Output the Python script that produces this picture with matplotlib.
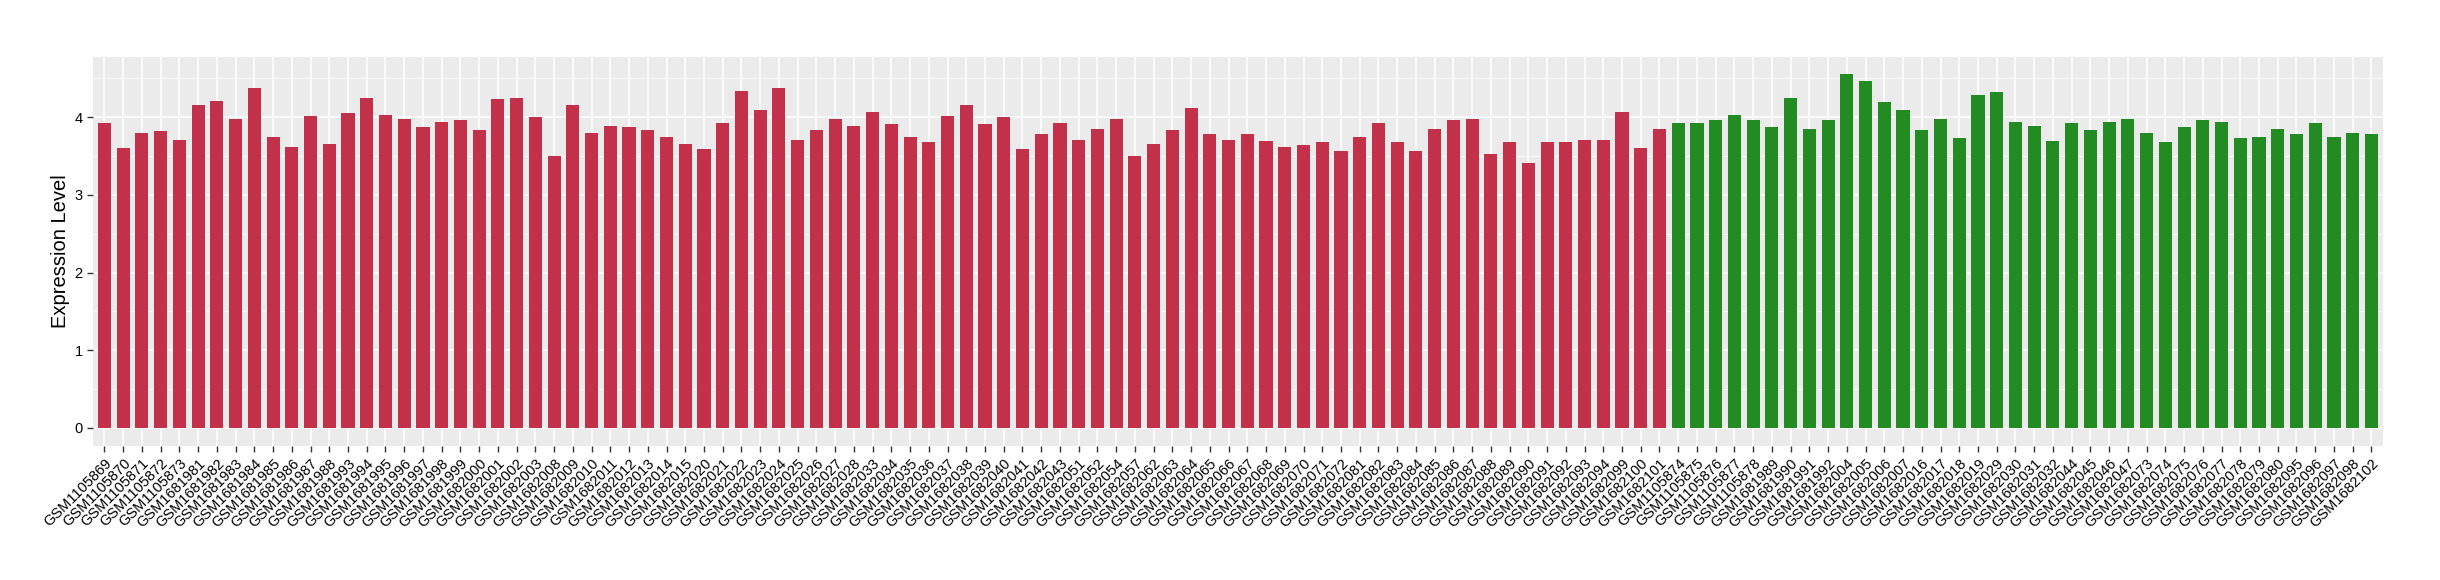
import numpy as np
import matplotlib
matplotlib.use('Agg')
import matplotlib.pyplot as plt
from matplotlib.ticker import MultipleLocator

plt.rcParams['font.family'] = ['Liberation Sans', 'DejaVu Sans']

# red group samples
red_samples = [
    'GSM1105869', 'GSM1105870', 'GSM1105871', 'GSM1105872', 'GSM1105873',
    'GSM1681981', 'GSM1681982', 'GSM1681983', 'GSM1681984', 'GSM1681985',
    'GSM1681986', 'GSM1681987', 'GSM1681988', 'GSM1681993', 'GSM1681994',
    'GSM1681995', 'GSM1681996', 'GSM1681997', 'GSM1681998', 'GSM1681999',
    'GSM1682000', 'GSM1682001', 'GSM1682002', 'GSM1682003', 'GSM1682008',
    'GSM1682009', 'GSM1682010', 'GSM1682011', 'GSM1682012', 'GSM1682013',
    'GSM1682014', 'GSM1682015', 'GSM1682020', 'GSM1682021', 'GSM1682022',
    'GSM1682023', 'GSM1682024', 'GSM1682025', 'GSM1682026', 'GSM1682027',
    'GSM1682028', 'GSM1682033', 'GSM1682034', 'GSM1682035', 'GSM1682036',
    'GSM1682037', 'GSM1682038', 'GSM1682039', 'GSM1682040', 'GSM1682041',
    'GSM1682042', 'GSM1682043', 'GSM1682051', 'GSM1682052', 'GSM1682054',
    'GSM1682057', 'GSM1682062', 'GSM1682063', 'GSM1682064', 'GSM1682065',
    'GSM1682066', 'GSM1682067', 'GSM1682068', 'GSM1682069', 'GSM1682070',
    'GSM1682071', 'GSM1682072', 'GSM1682081', 'GSM1682082', 'GSM1682083',
    'GSM1682084', 'GSM1682085', 'GSM1682086', 'GSM1682087', 'GSM1682088',
    'GSM1682089', 'GSM1682090', 'GSM1682091', 'GSM1682092', 'GSM1682093',
    'GSM1682094', 'GSM1682099', 'GSM1682100', 'GSM1682101',
]
red_values = [
    3.92, 3.60, 3.79, 3.82, 3.70, 4.15, 4.21, 3.97, 4.37, 3.74,
    3.62, 4.01, 3.66, 4.05, 4.25, 4.03, 3.98, 3.87, 3.94, 3.96,
    3.83, 4.23, 4.24, 4.00, 3.50, 4.15, 3.79, 3.89, 3.87, 3.84,
    3.75, 3.66, 3.59, 3.92, 4.34, 4.09, 4.38, 3.71, 3.83, 3.97,
    3.89, 4.06, 3.91, 3.75, 3.68, 4.01, 4.16, 3.91, 4.00, 3.59,
    3.78, 3.93, 3.71, 3.85, 3.97, 3.50, 3.66, 3.83, 4.12, 3.78,
    3.70, 3.78, 3.69, 3.62, 3.64, 3.68, 3.56, 3.75, 3.92, 3.68,
    3.56, 3.85, 3.96, 3.98, 3.52, 3.68, 3.41, 3.68, 3.68, 3.71,
    3.71, 4.06, 3.60, 3.85,
]

# green group samples
green_samples = [
    'GSM1105874', 'GSM1105875', 'GSM1105876', 'GSM1105877', 'GSM1105878',
    'GSM1681989', 'GSM1681990', 'GSM1681991', 'GSM1681992', 'GSM1682004',
    'GSM1682005', 'GSM1682006', 'GSM1682007', 'GSM1682016', 'GSM1682017',
    'GSM1682018', 'GSM1682019', 'GSM1682029', 'GSM1682030', 'GSM1682031',
    'GSM1682032', 'GSM1682044', 'GSM1682045', 'GSM1682046', 'GSM1682047',
    'GSM1682073', 'GSM1682074', 'GSM1682075', 'GSM1682076', 'GSM1682077',
    'GSM1682078', 'GSM1682079', 'GSM1682080', 'GSM1682095', 'GSM1682096',
    'GSM1682097', 'GSM1682098', 'GSM1682102',
]
green_values = [
    3.92, 3.93, 3.96, 4.03, 3.96, 3.87, 4.24, 3.85, 3.96, 4.55,
    4.47, 4.20, 4.09, 3.83, 3.98, 3.73, 4.29, 4.32, 3.94, 3.89,
    3.69, 3.92, 3.83, 3.94, 3.98, 3.79, 3.68, 3.87, 3.96, 3.94,
    3.73, 3.74, 3.85, 3.78, 3.93, 3.75, 3.79, 3.78,
]

RED = '#C3304A'
GREEN = '#228B22'

samples = red_samples + green_samples
values = red_values + green_values
colors = [RED] * len(red_samples) + [GREEN] * len(green_samples)
x = np.arange(len(samples))

fig = plt.figure(figsize=(24.4, 5.8), dpi=100)
ax = fig.add_axes([0.0382, 0.2316, 0.9383, 0.6706])

ax.set_facecolor('#EBEBEB')
ax.bar(x, values, width=0.7, color=colors, zorder=3)

ax.set_xlim(-0.6, len(samples) - 0.4)
ymax = max(values)
ax.set_ylim(-0.05 * ymax, 1.05 * ymax)

ax.set_xticks(x)
ax.set_xticklabels(samples, rotation=45, ha='right', rotation_mode='anchor',
                   fontsize=10.5, color='black')
ax.yaxis.set_major_locator(MultipleLocator(1))
ax.yaxis.set_minor_locator(MultipleLocator(0.5))
ax.tick_params(axis='y', labelsize=10.5, labelcolor='black')
ax.tick_params(axis='both', which='major', length=4, width=1, color='#333333')
ax.tick_params(axis='y', which='minor', length=0)

ax.grid(which='major', color='white', linewidth=1.1, zorder=0)
ax.grid(which='minor', axis='y', color='white', linewidth=0.55, zorder=0)
ax.set_axisbelow(True)
for s in ax.spines.values():
    s.set_visible(False)

ax.set_ylabel('Expression Level', fontsize=14.5, labelpad=3)

fig.savefig('out.png', dpi=100)
